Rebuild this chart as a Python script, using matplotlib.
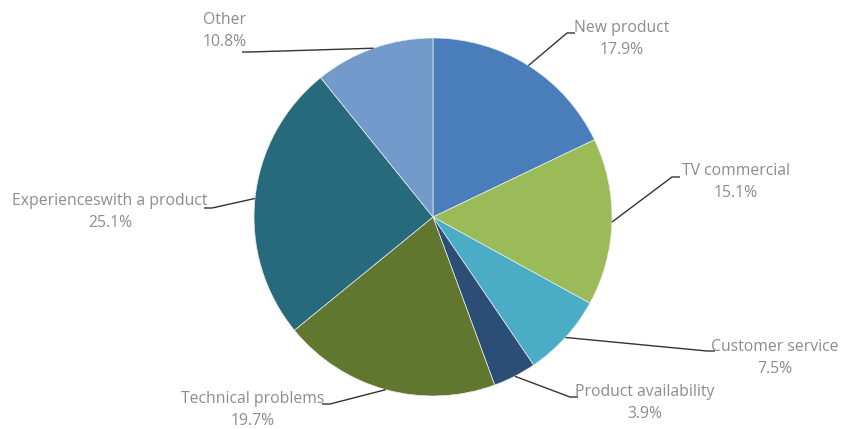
import numpy as np
import matplotlib
matplotlib.use('Agg')
import matplotlib.pyplot as plt

# ---------- data ---------- #

labels = ['New product', 'TV commercial', 'Customer service',
          'Product availability', 'Technical problems',
          'Experiences with a product', 'Other']
shares = [17.9, 15.1, 7.5, 3.9, 19.7, 25.1, 10.8]
colors = ['#4a7ebb', '#9bbb59', '#4bacc6', '#2c4d75', '#61772f', '#276a7c', '#729aca']

# label layout (pixel coords, y down): elbow point, text centre
elbows = [(567, 33), (672, 177), (707, 351), (570, 397), (330, 404), (212, 208), (250, 52)]
texts = [(622, 39), (736, 182), (775, 358), (645, 403), (253, 410), (110, 212), (225, 31)]

W, H = 844, 429
cx, cy, r = 433, 212, 179  # centre in axes coords (y up)

fig = plt.figure(figsize=(W/100, H/100), dpi=100)
ax = fig.add_axes([0, 0, 1, 1])

wedges, _ = ax.pie(shares, colors=colors, startangle=90, counterclock=False,
                   center=(cx, cy), radius=r, frame=True,
                   wedgeprops=dict(edgecolor='#e8eef0', linewidth=0.5))
ax.set_xlim(0, W)
ax.set_ylim(0, H)
ax.set_aspect('equal')
ax.axis('off')

for w, lab, s, el, tx in zip(wedges, labels, shares, elbows, texts):
    mid = np.deg2rad((w.theta1 + w.theta2) / 2)
    x0 = cx + r*np.cos(mid)
    y0 = cy + r*np.sin(mid)
    ex, ey = el[0], H - el[1]
    # short horizontal tail towards the text
    tail = 8 if tx[0] > ex else -8
    ax.plot([x0, ex, ex + tail], [y0, ey, ey], color='#333333', lw=1.0,
            solid_capstyle='butt')
    name = lab.replace('Experiences with', 'Experienceswith')
    ax.text(tx[0], H - tx[1], '{}\n{}%'.format(name, s), ha='center', va='center',
            fontsize=11.3, color='#8c8c8c', family='Open Sans', linespacing=1.5)

fig.savefig('out.png', dpi=100)
